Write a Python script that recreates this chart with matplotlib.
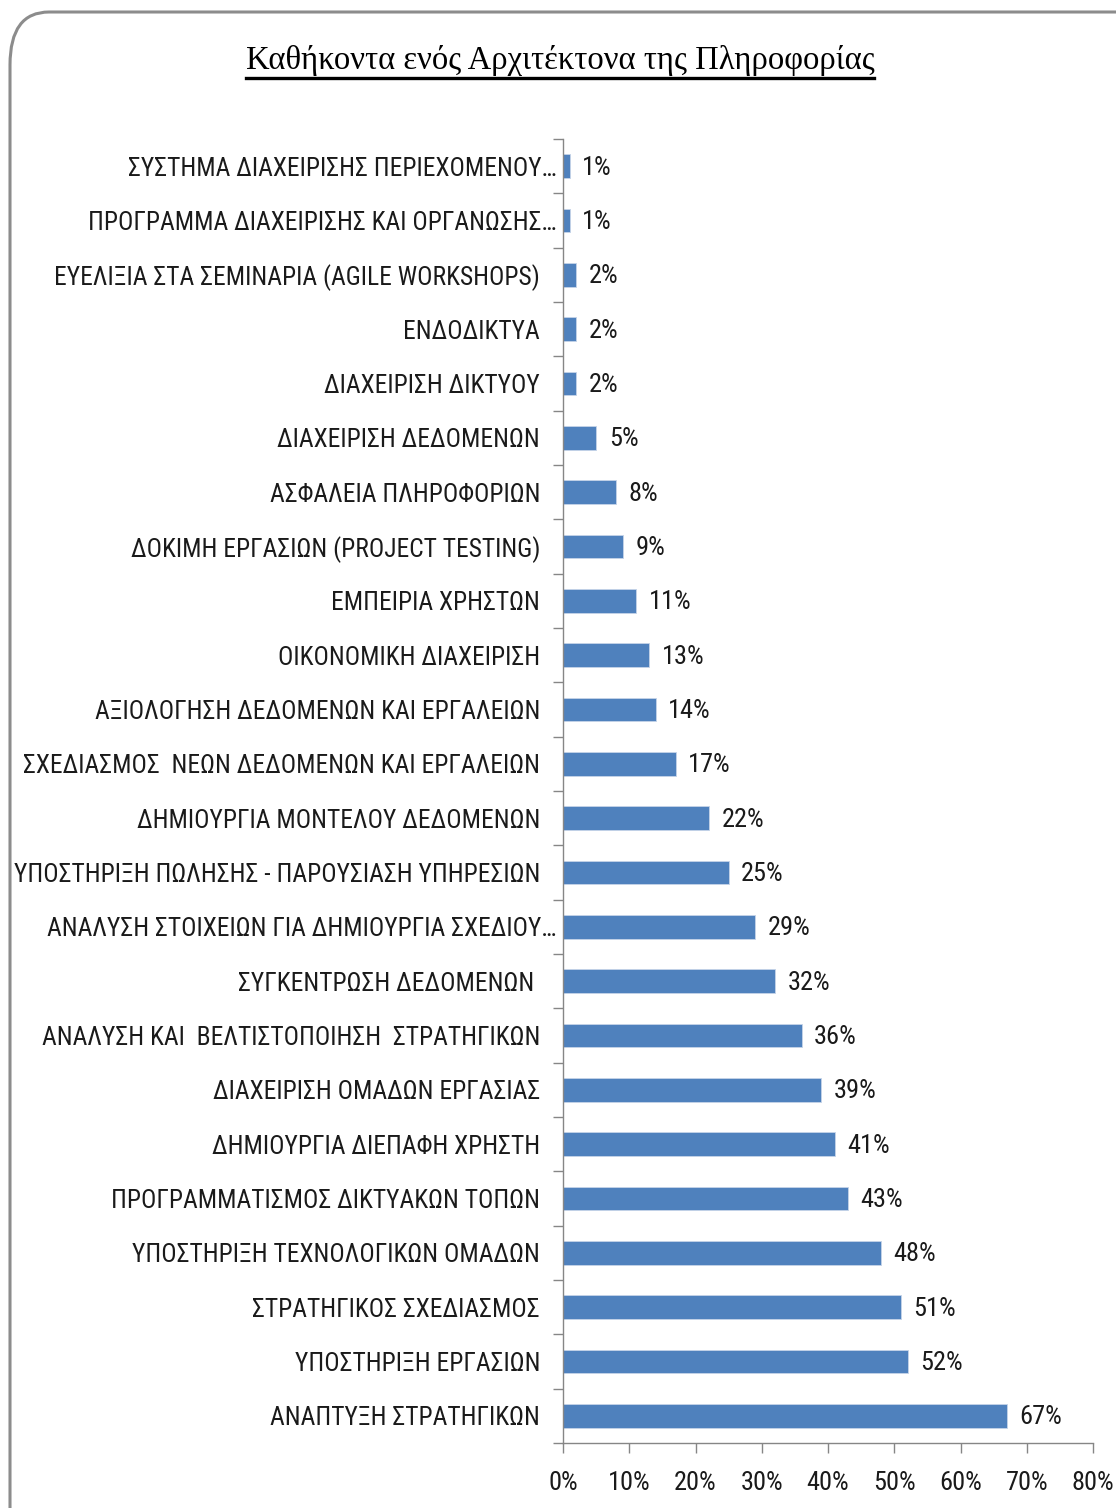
import numpy as np
import matplotlib.pyplot as plt
from matplotlib.patches import FancyBboxPatch
from matplotlib.ticker import FixedLocator, PercentFormatter

# Δεδομένα (από πάνω προς τα κάτω)
categories = [
    "ΣΥΣΤΗΜΑ ΔΙΑΧΕΙΡΙΣΗΣ ΠΕΡΙΕΧΟΜΕΝΟΥ…",
    "ΠΡΟΓΡΑΜΜΑ ΔΙΑΧΕΙΡΙΣΗΣ ΚΑΙ ΟΡΓΑΝΩΣΗΣ…",
    "ΕΥΕΛΙΞΙΑ ΣΤΑ ΣΕΜΙΝΑΡΙΑ (AGILE WORKSHOPS)",
    "ΕΝΔΟΔΙΚΤΥΑ",
    "ΔΙΑΧΕΙΡΙΣΗ ΔΙΚΤΥΟΥ",
    "ΔΙΑΧΕΙΡΙΣΗ ΔΕΔΟΜΕΝΩΝ",
    "ΑΣΦΑΛΕΙΑ ΠΛΗΡΟΦΟΡΙΩΝ",
    "ΔΟΚΙΜΗ ΕΡΓΑΣΙΩΝ (PROJECT TESTING)",
    "ΕΜΠΕΙΡΙΑ ΧΡΗΣΤΩΝ",
    "ΟΙΚΟΝΟΜΙΚΗ ΔΙΑΧΕΙΡΙΣΗ",
    "ΑΞΙΟΛΟΓΗΣΗ ΔΕΔΟΜΕΝΩΝ ΚΑΙ ΕΡΓΑΛΕΙΩΝ",
    "ΣΧΕΔΙΑΣΜΟΣ  ΝΕΩΝ ΔΕΔΟΜΕΝΩΝ ΚΑΙ ΕΡΓΑΛΕΙΩΝ",
    "ΔΗΜΙΟΥΡΓΙΑ ΜΟΝΤΕΛΟΥ ΔΕΔΟΜΕΝΩΝ",
    "ΥΠΟΣΤΗΡΙΞΗ ΠΩΛΗΣΗΣ - ΠΑΡΟΥΣΙΑΣΗ ΥΠΗΡΕΣΙΩΝ",
    "ΑΝΑΛΥΣΗ ΣΤΟΙΧΕΙΩΝ ΓΙΑ ΔΗΜΙΟΥΡΓΙΑ ΣΧΕΔΙΟΥ…",
    "ΣΥΓΚΕΝΤΡΩΣΗ ΔΕΔΟΜΕΝΩΝ ",
    "ΑΝΑΛΥΣΗ ΚΑΙ  ΒΕΛΤΙΣΤΟΠΟΙΗΣΗ  ΣΤΡΑΤΗΓΙΚΩΝ",
    "ΔΙΑΧΕΙΡΙΣΗ ΟΜΑΔΩΝ ΕΡΓΑΣΙΑΣ",
    "ΔΗΜΙΟΥΡΓΙΑ ΔΙΕΠΑΦΗ ΧΡΗΣΤΗ",
    "ΠΡΟΓΡΑΜΜΑΤΙΣΜΟΣ ΔΙΚΤΥΑΚΩΝ ΤΟΠΩΝ",
    "ΥΠΟΣΤΗΡΙΞΗ ΤΕΧΝΟΛΟΓΙΚΩΝ ΟΜΑΔΩΝ",
    "ΣΤΡΑΤΗΓΙΚΟΣ ΣΧΕΔΙΑΣΜΟΣ",
    "ΥΠΟΣΤΗΡΙΞΗ ΕΡΓΑΣΙΩΝ",
    "ΑΝΑΠΤΥΞΗ ΣΤΡΑΤΗΓΙΚΩΝ",
]
values = [1, 1, 2, 2, 2, 5, 8, 9, 11, 13, 14, 17, 22, 25, 29, 32, 36, 39, 41, 43, 48, 51, 52, 67]
x_ticks = [0, 10, 20, 30, 40, 50, 60, 70, 80]

title = "Καθήκοντα ενός Αρχιτέκτονα της Πληροφορίας"

bar_color = '#4F81BD'
axis_color = '#868686'
label_font = ['Roboto Condensed', 'DejaVu Sans']

fig = plt.figure(figsize=(11.16, 15.08), dpi=100)

# Πλαίσιο γραφήματος με στρογγυλεμένες γωνίες
frame = FancyBboxPatch((10 / 1116, -0.05), 1.2, 1.05 - 12 / 1508,
                       boxstyle="round,pad=0,rounding_size=0.035",
                       transform=fig.transFigure, facecolor='white',
                       edgecolor='#8c8c8c', linewidth=2.2, zorder=-5)
fig.patches.append(frame)

ax = fig.add_axes([563 / 1116, 1 - 1443 / 1508, 530 / 1116, 1304 / 1508])
ax.set_facecolor('none')

y = np.arange(len(categories))
ax.barh(y, values, height=0.43, color=bar_color, edgecolor='#c6d4e8', linewidth=0.6, zorder=2)

for yi, v in zip(y, values):
    ax.text(v + 1.9, yi + 0.03, f"{v}%", va='center', ha='left', fontsize=19,
            family=label_font, color='#1a1a1a')

ax.set_xlim(0, 80)
ax.set_ylim(len(categories) - 0.5, -0.5)

ax.set_yticks(y)
ax.set_yticklabels(categories, family=label_font, fontsize=18.4, color='#1a1a1a')
ax.yaxis.set_minor_locator(FixedLocator(np.arange(-0.5, len(categories), 1.0)))
ax.tick_params(axis='y', which='major', length=0, pad=16.5)
ax.tick_params(axis='y', which='minor', length=7, width=1.0, color=axis_color)
for tick, lab in zip(ax.yaxis.get_major_ticks(), categories):
    if lab.endswith('…'):
        tick.set_pad(4.5)

ax.set_xticks(x_ticks)
ax.xaxis.set_major_formatter(PercentFormatter(decimals=0))
ax.tick_params(axis='x', which='major', length=7, width=1.0, color=axis_color,
               direction='out', pad=13, labelsize=19)
for lab in ax.get_xticklabels():
    lab.set_family(label_font)
    lab.set_color('#1a1a1a')

for side in ['top', 'right']:
    ax.spines[side].set_visible(False)
for side in ['left', 'bottom']:
    ax.spines[side].set_color(axis_color)
    ax.spines[side].set_linewidth(1.0)

t = fig.text(560 / 1116, 1 - 60 / 1508, title, ha='center', va='center',
             fontsize=23.5, family=['Liberation Serif', 'DejaVu Serif'], color='black')

# υπογράμμιση τίτλου
fig.canvas.draw()
bb = t.get_window_extent().transformed(fig.transFigure.inverted())
uy = bb.y0 - 2 / 1508
fig.add_artist(plt.Line2D([bb.x0, bb.x1], [uy, uy], transform=fig.transFigure,
                          color='black', linewidth=2.4))

fig.savefig('out.png', dpi=100)
